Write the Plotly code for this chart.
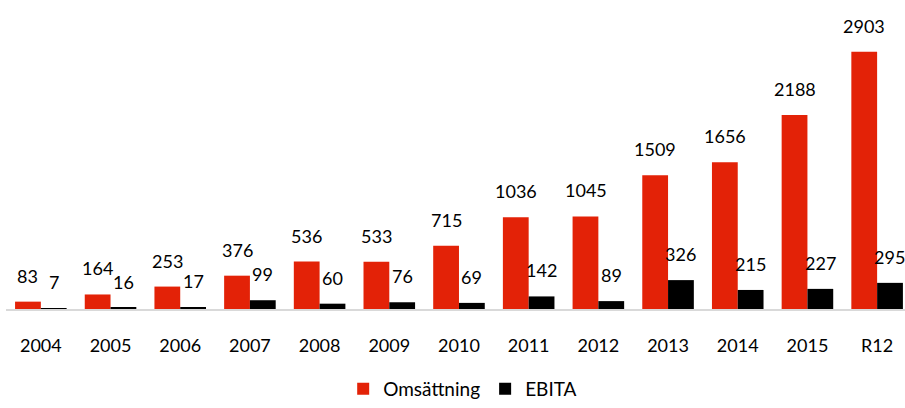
import plotly.graph_objects as go

categories = ["2004", "2005", "2006", "2007", "2008", "2009", "2010", "2011", "2012", "2013", "2014", "2015", "R12"]
omsattning = [83, 164, 253, 376, 536, 533, 715, 1036, 1045, 1509, 1656, 2188, 2903]
ebita = [7, 16, 17, 99, 60, 76, 69, 142, 89, 326, 215, 227, 295]

RED = "#E32207"
BLACK = "#000000"
FONT = "Lato, 'Open Sans', sans-serif"

fig = go.Figure()
fig.add_trace(go.Bar(x=categories, y=omsattning, name="Omsättning", marker=dict(color=RED, line=dict(width=0))))
fig.add_trace(go.Bar(x=categories, y=ebita, name="EBITA", marker=dict(color=BLACK, line=dict(width=0))))

annotations = []
for i, v in enumerate(omsattning):
    annotations.append(dict(x=i, y=v, xref="x", yref="y", text=str(v), showarrow=False,
                            xshift=-12.85, yshift=26, yanchor="middle",
                            font=dict(size=18, color="#000000", family=FONT)))
for i, v in enumerate(ebita):
    annotations.append(dict(x=i, y=v, xref="x", yref="y", text=str(v), showarrow=False,
                            xshift=12.85, yshift=26, yanchor="middle",
                            font=dict(size=18, color="#000000", family=FONT)))

fig.update_layout(
    template="none",
    width=905, height=408,
    margin=dict(l=6, r=0, t=10, b=92, pad=0),
    paper_bgcolor="white", plot_bgcolor="white",
    barmode="group", bargap=0.26, bargroupgap=0,
    font=dict(family=FONT, size=18, color="#000000"),
    annotations=annotations,
    showlegend=True,
    legend=dict(orientation="h", x=0.508, xanchor="center", y=-0.268, yanchor="middle",
                font=dict(size=19, family=FONT), itemwidth=30, traceorder="normal"),
    xaxis=dict(type="category", range=[-0.5, 12.4], automargin=False, showgrid=False, showline=True,
               linecolor="#D9D9D9", linewidth=2, zeroline=False,
               ticks="outside", ticklen=19, tickcolor="rgba(0,0,0,0)",
               tickfont=dict(size=18, family=FONT), fixedrange=True),
    yaxis=dict(range=[0, 3374], automargin=False, showgrid=False, zeroline=False, showline=False,
               showticklabels=False, fixedrange=True),
)

fig.write_html(
    "out.html",
    config={"displayModeBar": False},
    post_script="document.body.style.margin='0';document.body.style.overflow='hidden';"
                "document.documentElement.style.overflow='hidden';",
)
